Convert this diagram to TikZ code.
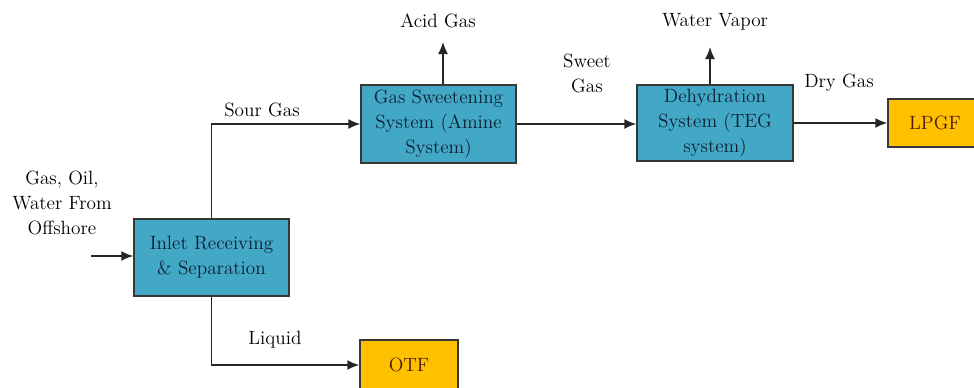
\documentclass[tikz,border=0pt]{standalone}
\usetikzlibrary{arrows.meta}
\definecolor{boxblue}{RGB}{66,168,198}
\definecolor{boxorange}{RGB}{255,192,0}
\definecolor{edgegray}{RGB}{55,55,55}
\definecolor{bluetext}{RGB}{15,30,50}
\definecolor{orangetext}{RGB}{75,25,10}
\tikzset{
  txtfont/.style={font=\fontsize{14.4}{18.75}\selectfont},
  procbox/.style={draw=edgegray, line width=1.1pt, fill=boxblue, text=bluetext,
    align=center, inner sep=0pt, txtfont},
  destbox/.style={draw=edgegray, line width=1.1pt, fill=boxorange, text=orangetext,
    align=center, inner sep=0pt, txtfont},
  lbl/.style={align=center, inner sep=0pt, text=black, txtfont},
  flow/.style={draw=black!85, line width=1.1pt, -{Latex[length=9pt,width=7.5pt]}}
}
\begin{document}
\begin{tikzpicture}[x=0.75pt,y=-0.75pt]
\useasboundingbox (0,0) rectangle (974,387);
\clip (0,0) rectangle (974,387);
% boxes
\node[procbox, minimum width=155*0.75pt, minimum height=77*0.75pt] (inlet) at (211.5,257.5) {Inlet Receiving\\\& Separation};
\node[procbox, minimum width=155*0.75pt, minimum height=78*0.75pt] (sweet) at (438.5,124) {Gas Sweetening\\System (Amine\\System)};
\node[procbox, minimum width=156*0.75pt, minimum height=76*0.75pt] (dehy) at (715,123) {Dehydration\\System (TEG\\system)};
\node[destbox, minimum width=94*0.75pt, minimum height=48*0.75pt] (lpgf) at (935,123) {LPGF};
\node[destbox, minimum width=98*0.75pt, minimum height=50*0.75pt] (otf) at (409,365) {OTF};
% labels
\node[lbl] (feedlbl) at (62,203) {Gas, Oil,\\Water From\\Offshore};
\node[lbl] (sourlbl) at (262,110) {Sour Gas};
\node[lbl] (acidlbl) at (438,21) {Acid Gas};
\node[lbl] (sweetlbl) at (587,73) {Sweet\\Gas};
\node[lbl] (waterlbl) at (715,22) {Water Vapor};
\node[lbl] (drylbl) at (839,83) {Dry Gas};
\node[lbl] (liqlbl) at (275,340) {Liquid};
% free ends
\coordinate (feedin) at (91,256);
\coordinate (acidtip) at (443,42);
\coordinate (watertip) at (710,47);
% connectors
\draw[flow] (feedin) -- (feedin -| inlet.west);
\draw[flow] (inlet.north) |- (sweet.west);
\draw[flow] (inlet.south) |- (otf.west);
\draw[flow] (sweet.north -| acidtip) -- (acidtip);
\draw[flow] (sweet.east) -- (sweet.east -| dehy.west);
\draw[flow] (dehy.north -| watertip) -- (watertip);
\draw[flow] (dehy.east) -- (lpgf.west);
\end{tikzpicture}
\end{document}
